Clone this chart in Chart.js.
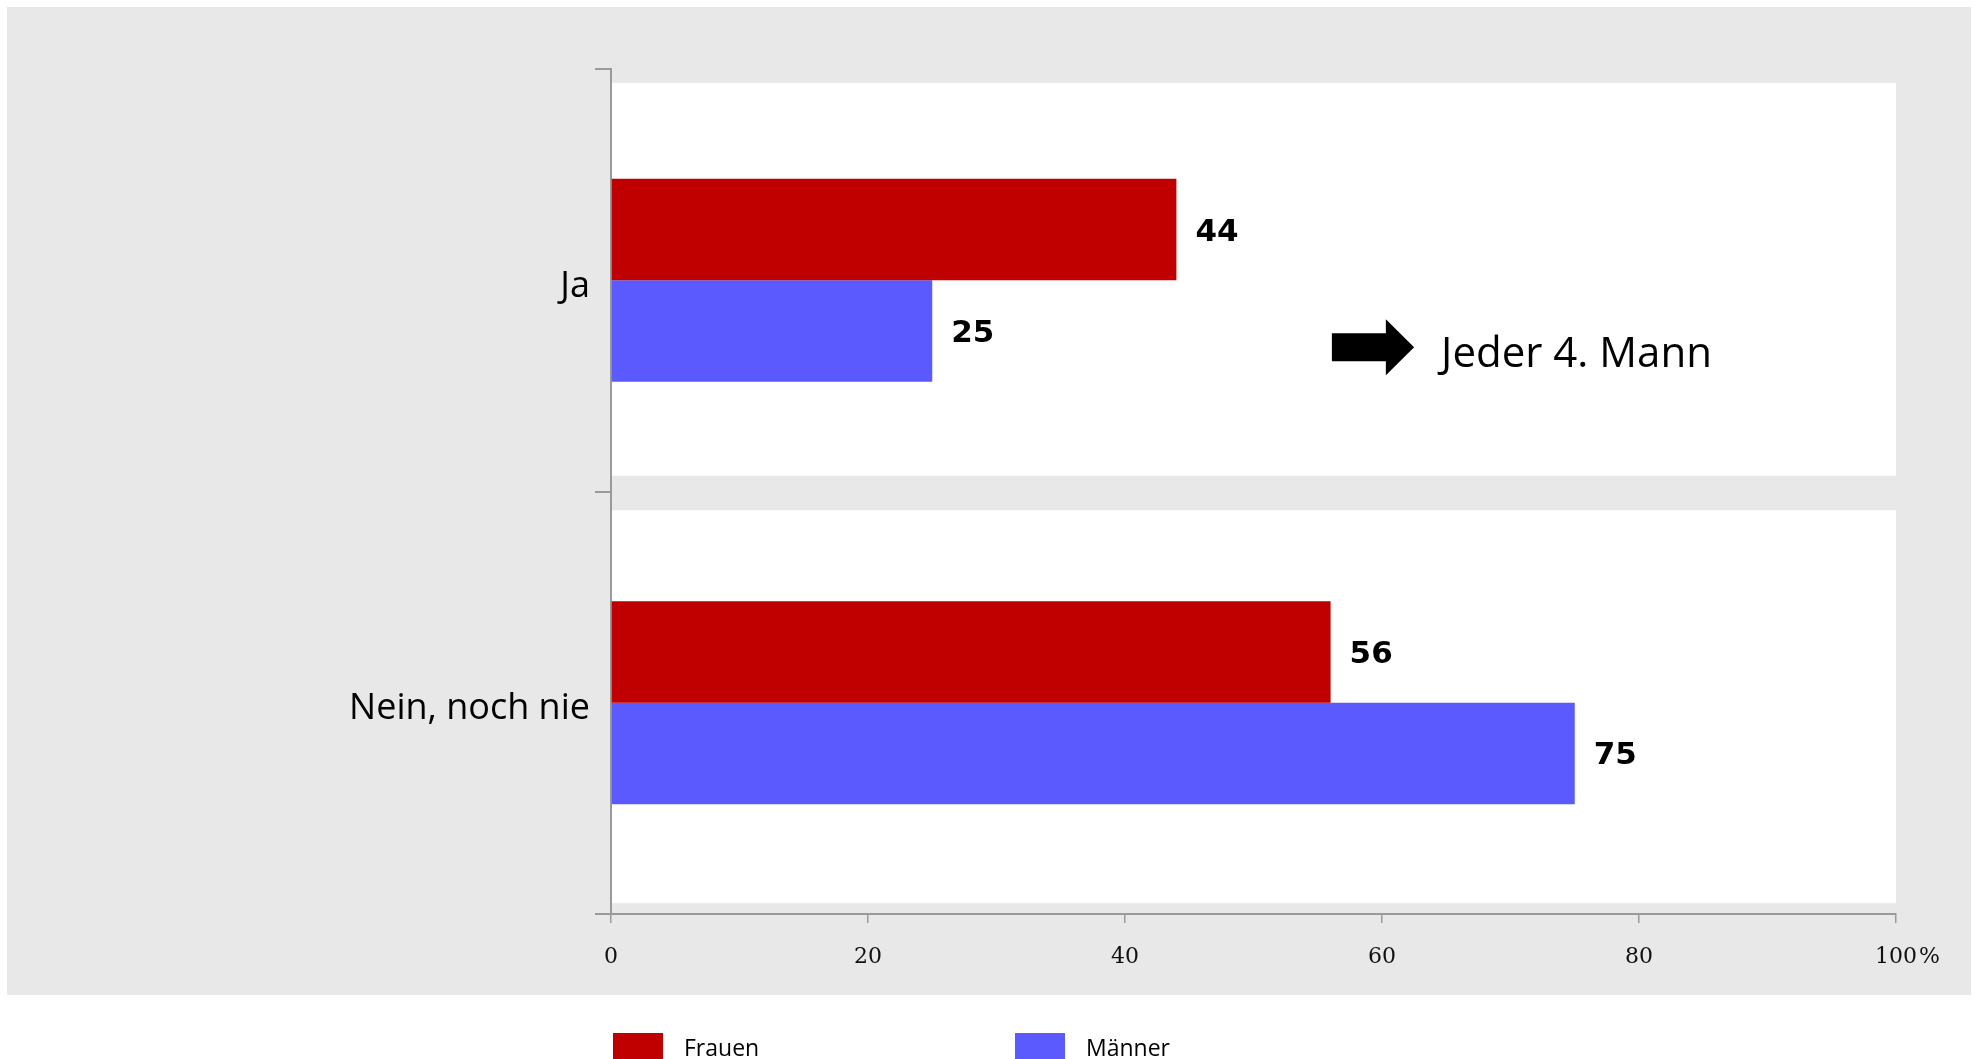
<!DOCTYPE html>
<html><head><meta charset="utf-8">
<script src="https://cdn.jsdelivr.net/npm/chart.js@4.4.1/dist/chart.umd.min.js"></script>
<style>
html,body{margin:0;padding:0;background:#fff;overflow:hidden}
#wrap{position:absolute;left:0;top:0;width:1975px;height:1059px}
</style>
</head><body>
<div id="wrap"><canvas id="c" width="1975" height="1059"></canvas></div>
<script>
const categories = ['Ja', 'Nein, noch nie'];
const seriesNames = ['Frauen', 'Männer'];
const frauen = [44, 56];
const maenner = [25, 75];
const xTickValues = [0, 20, 40, 60, 80, 100];
const xUnit = '%';
const annotationText = 'Jeder 4. Mann';
const seriesColors = ['#C00000', '#5A5AFF'];

const W = 1975, H = 1059;

const bgPlugin = {
  id: 'bg',
  beforeDraw(chart) {
    const ctx = chart.ctx, a = chart.chartArea, y = chart.scales.y;
    ctx.save();
    ctx.fillStyle = '#E8E8E8';
    ctx.fillRect(7, 7, 1964, 988);
    const catH = (a.bottom - a.top) / categories.length;
    ctx.fillStyle = '#FFFFFF';
    categories.forEach((c, i) => {
      const cy = y.getPixelForValue(i) + (i === 0 ? -1 : 4);
      const h = catH * 0.93;
      ctx.fillRect(a.left, cy - h / 2, a.right - a.left, h);
    });
    ctx.restore();
  }
};

const labelPlugin = {
  id: 'labels',
  afterDatasetsDraw(chart) {
    const ctx = chart.ctx;
    ctx.save();
    ctx.font = 'bold 31px "DejaVu Sans"';
    ctx.fillStyle = '#000';
    ctx.textBaseline = 'middle';
    ctx.textAlign = 'left';
    chart.data.datasets.forEach((ds, di) => {
      const meta = chart.getDatasetMeta(di);
      meta.data.forEach((bar, i) => {
        ctx.fillText(String(ds.data[i]), bar.x + 19, bar.y + 3);
      });
    });
    ctx.restore();
  },
  afterDraw(chart) {
    const ctx = chart.ctx, a = chart.chartArea, xs = chart.scales.x, ys = chart.scales.y;
    ctx.save();
    const lastV = xTickValues[xTickValues.length - 1];
    ctx.font = '22px "DejaVu Serif"';
    ctx.fillStyle = '#111';
    ctx.textBaseline = 'middle';
    ctx.textAlign = 'left';
    const wLast = ctx.measureText(String(lastV)).width;
    const lx = xs.getPixelForValue(lastV);
    const tickLabelY = xs.top + 43;
    ctx.fillText(xUnit, lx + wLast / 2 + 2, tickLabelY);

    const cy = ys.getPixelForValue(0);
    const ay = cy + 67;
    const x0 = xs.getPixelForValue(56.1), xb = xs.getPixelForValue(60.3), xt = xs.getPixelForValue(62.5);
    ctx.fillStyle = '#000';
    ctx.beginPath();
    ctx.moveTo(x0, ay - 14);
    ctx.lineTo(xb, ay - 14);
    ctx.lineTo(xb, ay - 28);
    ctx.lineTo(xt, ay);
    ctx.lineTo(xb, ay + 28);
    ctx.lineTo(xb, ay + 14);
    ctx.lineTo(x0, ay + 14);
    ctx.closePath();
    ctx.fill();
    ctx.font = '42px "Open Sans"';
    ctx.textBaseline = 'alphabetic';
    ctx.fillText(annotationText, xs.getPixelForValue(64.6), cy + 87);

    ctx.font = '23px "Open Sans"';
    const lgX = [a.left + 2, a.left + 404];
    chart.data.datasets.forEach((ds, di) => {
      ctx.fillStyle = ds.backgroundColor;
      ctx.fillRect(lgX[di], 1033, 50, 30);
      ctx.fillStyle = '#000';
      ctx.fillText(ds.label, lgX[di] + 71, 1056);
    });
    ctx.restore();
  }
};

function build() {
  new Chart(document.getElementById('c'), {
    type: 'bar',
    data: {
      labels: categories,
      datasets: [
        { label: seriesNames[0], data: frauen, backgroundColor: seriesColors[0], categoryPercentage: 0.48, barPercentage: 1.0 },
        { label: seriesNames[1], data: maenner, backgroundColor: seriesColors[1], categoryPercentage: 0.48, barPercentage: 1.0 }
      ]
    },
    options: {
      indexAxis: 'y',
      responsive: false,
      animation: false,
      devicePixelRatio: 1,
      layout: { padding: { left: 0, top: 69, right: 79, bottom: 0 } },
      plugins: { legend: { display: false }, tooltip: { enabled: false } },
      scales: {
        x: {
          type: 'linear', min: 0, max: 100,
          afterBuildTicks: (s) => { s.ticks = xTickValues.map(v => ({ value: v })); },
          afterFit: (s) => { s.height = H - 914; },
          ticks: { font: { family: 'DejaVu Serif', size: 22 }, color: '#111', padding: 21, maxRotation: 0, autoSkip: false },
          grid: { drawOnChartArea: false, drawTicks: true, tickLength: 9, color: '#9A9A9A', lineWidth: 1.5 },
          border: { color: '#9A9A9A', width: 2 }
        },
        y: {
          type: 'category', offset: true,
          afterFit: (s) => { s.width = 611; },
          ticks: { font: { family: 'Open Sans', size: 36 }, color: '#000', padding: 5, labelOffset: 6 },
          grid: { offset: true, drawOnChartArea: false, drawTicks: true, tickLength: 16, color: '#9A9A9A', lineWidth: 2 },
          border: { color: '#9A9A9A', width: 2 }
        }
      }
    },
    plugins: [bgPlugin, labelPlugin]
  });
}
Promise.all([
  document.fonts.load('36px "Open Sans"'),
  document.fonts.load('22px "DejaVu Serif"'),
  document.fonts.load('bold 31px "DejaVu Sans"')
]).then(build, build);
</script>
</body></html>
